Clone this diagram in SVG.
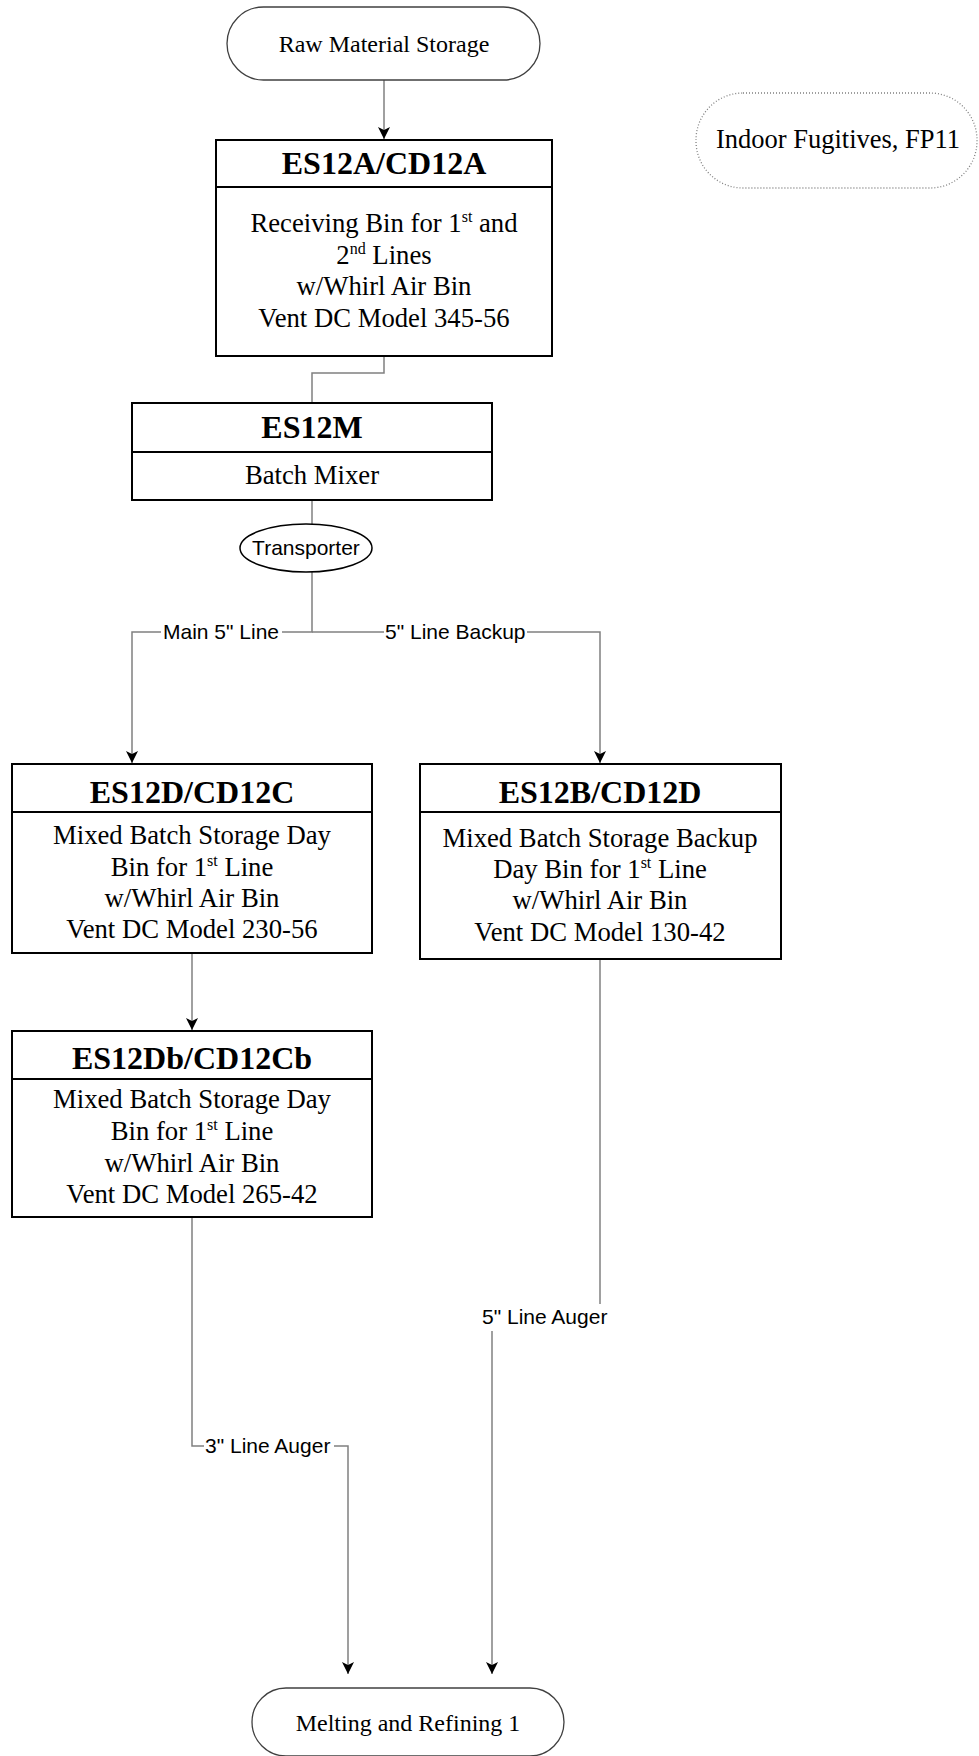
<svg xmlns="http://www.w3.org/2000/svg" width="979" height="1756" viewBox="0 0 979 1756">
  <style>
    .box { fill: #fff; stroke: #000; stroke-width: 2; }
    .div { stroke: #000; stroke-width: 2; }
    .term { fill: #fff; stroke: #404040; stroke-width: 1.3; }
    .note { fill: #fff; stroke: #808080; stroke-width: 1.3; stroke-dasharray: 1 2; }
    .wire { fill: none; stroke: #808080; stroke-width: 1.5; }
    .title { font-family: "Liberation Serif", "Times New Roman", serif; font-weight: bold; font-size: 32px; text-anchor: middle; fill: #000; }
    .body { font-family: "Liberation Serif", "Times New Roman", serif; font-size: 26.7px; text-anchor: middle; fill: #000; }
    .tlabel { font-family: "Liberation Serif", "Times New Roman", serif; font-size: 24px; text-anchor: middle; fill: #000; }
    .sans { font-family: "Liberation Sans", Arial, sans-serif; font-size: 21px; fill: #000; }
    .sup { font-size: 16px; }
  </style>
  <defs>
    <marker id="arrow" viewBox="0 0 12 12" refX="12" refY="6" markerWidth="12" markerHeight="12" markerUnits="userSpaceOnUse" orient="auto">
      <path d="M12,6 L0,0 L3,6 L0,12 Z" fill="#000"/>
    </marker>
  </defs>

  <!-- connectors -->
  <g id="connectors">
    <path class="wire" d="M384,80 V139" marker-end="url(#arrow)"/>
    <path class="wire" d="M384,356 V373 H312 V403"/>
    <path class="wire" d="M312,500 V524"/>
    <path class="wire" d="M312,572 V632 H282"/>
    <path class="wire" d="M161,632 H132 V763" marker-end="url(#arrow)"/>
    <path class="wire" d="M312,632 H384"/>
    <path class="wire" d="M527,632 H600 V763" marker-end="url(#arrow)"/>
    <path class="wire" d="M192,953 V1030" marker-end="url(#arrow)"/>
    <path class="wire" d="M192,1217 V1446 H204"/>
    <path class="wire" d="M334,1446 H348 V1674" marker-end="url(#arrow)"/>
    <path class="wire" d="M600,959 V1304"/>
    <path class="wire" d="M492,1331 V1674" marker-end="url(#arrow)"/>
    <text class="sans" x="163" y="639">Main 5" Line</text>
    <text class="sans" x="385" y="639">5" Line Backup</text>
    <text class="sans" x="205" y="1453">3" Line Auger</text>
    <text class="sans" x="482" y="1324">5" Line Auger</text>
  </g>

  <g id="raw-material-storage">
    <rect class="term" x="227" y="7" width="313" height="73" rx="36.5" ry="36.5"/>
    <text class="tlabel" x="384" y="52">Raw Material Storage</text>
  </g>

  <g id="indoor-fugitives">
    <rect class="note" x="696" y="93" width="281" height="95" rx="47" ry="47"/>
    <text class="body" x="838" y="148" style="font-size:26.5px">Indoor Fugitives, FP11</text>
  </g>

  <g id="ES12A">
    <rect class="box" x="216" y="140" width="336" height="216"/>
    <line class="div" x1="216" y1="187" x2="552" y2="187"/>
    <text class="title" x="384" y="174">ES12A/CD12A</text>
    <text class="body" x="384" y="232">Receiving Bin for 1<tspan class="sup" dy="-10">st</tspan><tspan dy="10"> and</tspan></text>
    <text class="body" x="384" y="264">2<tspan class="sup" dy="-10">nd</tspan><tspan dy="10"> Lines</tspan></text>
    <text class="body" x="384" y="295">w/Whirl Air Bin</text>
    <text class="body" x="384" y="327">Vent DC Model 345-56</text>
  </g>

  <g id="ES12M">
    <rect class="box" x="132" y="403" width="360" height="97"/>
    <line class="div" x1="132" y1="452" x2="492" y2="452"/>
    <text class="title" x="312" y="438">ES12M</text>
    <text class="body" x="312" y="484">Batch Mixer</text>
  </g>

  <g id="transporter">
    <ellipse cx="306" cy="548" rx="66" ry="24" fill="#fff" stroke="#000" stroke-width="1.5"/>
    <text class="sans" x="306" y="555" text-anchor="middle">Transporter</text>
  </g>

  <g id="ES12D">
    <rect class="box" x="12" y="764" width="360" height="189"/>
    <line class="div" x1="12" y1="812" x2="372" y2="812"/>
    <text class="title" x="192" y="803">ES12D/CD12C</text>
    <text class="body" x="192" y="844">Mixed Batch Storage Day</text>
    <text class="body" x="192" y="876">Bin for 1<tspan class="sup" dy="-10">st</tspan><tspan dy="10"> Line</tspan></text>
    <text class="body" x="192" y="907">w/Whirl Air Bin</text>
    <text class="body" x="192" y="938">Vent DC Model 230-56</text>
  </g>

  <g id="ES12B">
    <rect class="box" x="420" y="764" width="361" height="195"/>
    <line class="div" x1="420" y1="812" x2="781" y2="812"/>
    <text class="title" x="600" y="803">ES12B/CD12D</text>
    <text class="body" x="600" y="847">Mixed Batch Storage Backup</text>
    <text class="body" x="600" y="878">Day Bin for 1<tspan class="sup" dy="-10">st</tspan><tspan dy="10"> Line</tspan></text>
    <text class="body" x="600" y="909">w/Whirl Air Bin</text>
    <text class="body" x="600" y="941">Vent DC Model 130-42</text>
  </g>

  <g id="ES12Db">
    <rect class="box" x="12" y="1031" width="360" height="186"/>
    <line class="div" x1="12" y1="1079" x2="372" y2="1079"/>
    <text class="title" x="192" y="1069">ES12Db/CD12Cb</text>
    <text class="body" x="192" y="1108">Mixed Batch Storage Day</text>
    <text class="body" x="192" y="1140">Bin for 1<tspan class="sup" dy="-10">st</tspan><tspan dy="10"> Line</tspan></text>
    <text class="body" x="192" y="1172">w/Whirl Air Bin</text>
    <text class="body" x="192" y="1203">Vent DC Model 265-42</text>
  </g>

  <g id="melting-refining-1">
    <rect class="term" x="252" y="1688" width="312" height="68" rx="34" ry="34"/>
    <text class="tlabel" x="408" y="1731">Melting and Refining 1</text>
  </g>
</svg>
